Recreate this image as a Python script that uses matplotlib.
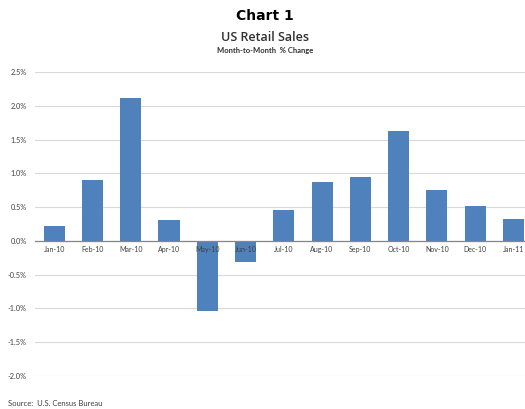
import numpy as np
import matplotlib
matplotlib.use('Agg')
import matplotlib.pyplot as plt

# Data
months = ['Jan-10', 'Feb-10', 'Mar-10', 'Apr-10', 'May-10', 'Jun-10', 'Jul-10',
          'Aug-10', 'Sep-10', 'Oct-10', 'Nov-10', 'Dec-10', 'Jan-11']
pct_change = [0.22, 0.90, 2.12, 0.31, -1.04, -0.31, 0.46,
              0.87, 0.95, 1.63, 0.75, 0.52, 0.33]
y_ticks = [-2.0, -1.5, -1.0, -0.5, 0.0, 0.5, 1.0, 1.5, 2.0, 2.5]
y_labels = ['-2.0%', '-1.5%', '-1.0%', '-0.5%', '0.0%', '0.5%', '1.0%',
            '1.5%', '2.0%', '2.5%']

bar_color = '#4F81BD'
label_color = '#404040'

fig = plt.figure(figsize=(5.25, 4.09), dpi=100)
ax = fig.add_axes([35 / 525, 1 - 376 / 409, 1 - 35 / 525, (376 - 72) / 409])

x = np.arange(len(months))
ax.bar(x, pct_change, width=0.55, color=bar_color, zorder=3)

ax.set_ylim(-2.0, 2.5)
ax.set_xlim(-0.5, 12.3)
ax.set_yticks(y_ticks)
ax.set_yticklabels(y_labels, family='Lato', fontsize=5.3, color=label_color)
ax.grid(axis='y', color='#D9D9D9', linewidth=0.8, zorder=0)
ax.axhline(0, color='#868686', linewidth=0.9, zorder=4)

for s in ax.spines.values():
    s.set_visible(False)
ax.tick_params(axis='both', length=0)
ax.tick_params(axis='y', pad=6)
ax.set_xticks([])

# month labels sit just under the zero line
for xi, m in zip(x, months):
    ax.text(xi, -0.08, m, ha='center', va='top', fontsize=5, color=label_color,
            family='Lato', zorder=5)

fig.text(0.505, 0.962, 'Chart 1', ha='center', va='center', fontsize=10,
         fontweight='bold', family='DejaVu Sans')
fig.text(0.505, 0.909, 'US Retail Sales', ha='center', va='center', fontsize=9,
         fontweight='semibold', family='Open Sans', color='#303030')
fig.text(0.505, 0.877, 'Month-to-Month  % Change', ha='center', va='center',
         fontsize=5.5, fontweight='bold', family='Lato', color='#303030')
fig.text(8 / 525, 1 - 403 / 409, 'Source:  U.S. Census Bureau', ha='left',
         va='center', fontsize=5.5, family='Lato', color=label_color)

fig.savefig('out.png', dpi=100)
